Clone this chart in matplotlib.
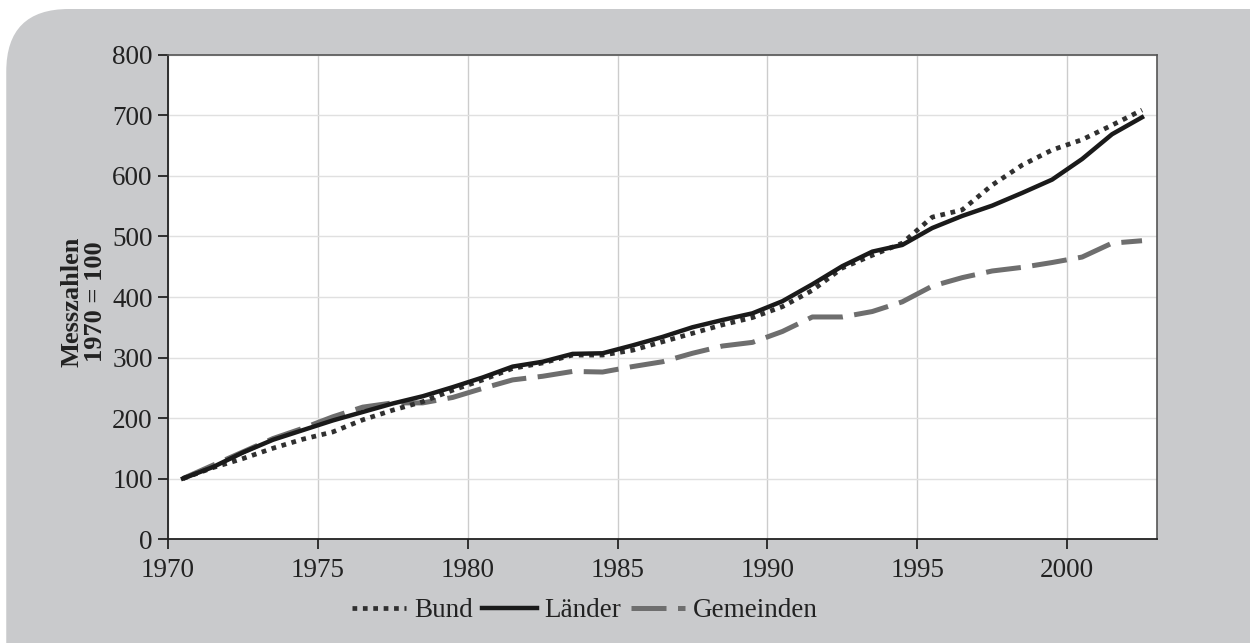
import matplotlib
matplotlib.use("Agg")
import matplotlib.pyplot as plt
from matplotlib.patches import FancyBboxPatch

years = list(range(1970, 2003))

bund = [100, 118, 133, 150, 165, 177, 197, 213, 227, 246, 263, 282, 291, 304, 304,
        312, 326, 340, 354, 366, 384, 411, 448, 469, 489, 532, 544, 585, 618, 643,
        660, 684, 709]
laender = [100, 119, 143, 164, 180, 196, 210, 224, 236, 251, 267, 285, 293, 306, 307,
           320, 334, 350, 362, 373, 393, 421, 451, 475, 486, 514, 534, 551, 572, 594,
           628, 669, 697]
gemeinden = [100, 122, 144, 166, 183, 202, 218, 225, 225, 234, 249, 263, 269, 277, 276,
             285, 293, 307, 319, 325, 343, 367, 367, 376, 392, 418, 432, 443, 449, 457,
             466, 489, 493]

yticks = [0, 100, 200, 300, 400, 500, 600, 700, 800]
xticks = [1970, 1975, 1980, 1985, 1990, 1995, 2000]

plt.rcParams['font.family'] = ['Liberation Serif', 'DejaVu Serif']

fig = plt.figure(figsize=(12.5, 6.43), dpi=100)
# grey panel with a rounded top-left corner, running off the right and bottom edges
bg = FancyBboxPatch((0.005, -0.3), 1.3, 1.286, boxstyle="round,pad=0,rounding_size=0.05",
                    transform=fig.transFigure, facecolor='#c9cacc', edgecolor='none',
                    mutation_aspect=1250 / 643, zorder=-10)
fig.patches.append(bg)

ax = fig.add_axes([0.1344, 0.1617, 0.7912, 0.7528])
ax.set_facecolor('white')

# Excel-style category axis: points sit in the middle of each year
xpos = [y + 0.5 for y in years]
ax.plot(xpos, bund, color='#303030', lw=3.4, linestyle=(0, (1, 1.2)),
        dash_capstyle='butt', label='Bund', zorder=3)
ax.plot(xpos, laender, color='#1a1a1a', lw=3.2, label='Länder', zorder=4)
ax.plot(xpos, gemeinden, color='#6e6e6e', lw=3.6, linestyle=(0, (7, 2.3)),
        label='Gemeinden', zorder=2)

ax.set_xlim(1970, 2003)
ax.set_ylim(0, 800)
ax.set_xticks(xticks)
ax.set_yticks(yticks)
ax.grid(True, axis='x', color='#cccccc', lw=1)
ax.grid(True, axis='y', color='#e0e0e0', lw=1)
ax.set_axisbelow(True)
ax.tick_params(direction='out', length=7, width=1.3, labelsize=19.5, colors='#222222',
               pad=7)
ax.tick_params(axis='y', pad=4)
for side in ['left', 'bottom']:
    ax.spines[side].set_color('#222222')
    ax.spines[side].set_linewidth(1.3)
for side in ['top', 'right']:
    ax.spines[side].set_color('#555555')
    ax.spines[side].set_linewidth(1.2)

ax.set_ylabel('Messzahlen\n1970 = 100', fontsize=19, fontweight='bold',
              color='#222222', linespacing=1.0)
ax.yaxis.set_label_coords(-0.062, 0.49)

fig.legend(loc='center', bbox_to_anchor=(0.468, 0.05), ncol=3, frameon=False,
           fontsize=19.5, handlelength=2.0, handletextpad=0.3, columnspacing=0.35,
           labelcolor='#222222')

fig.savefig("out.png", dpi=100)
